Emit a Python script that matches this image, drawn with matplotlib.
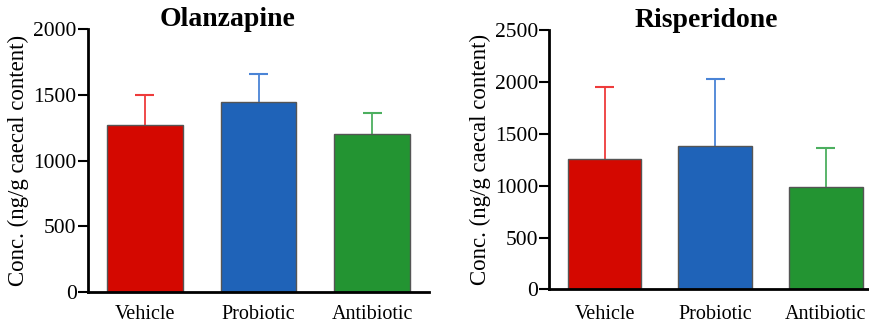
import matplotlib
matplotlib.use("Agg")
import matplotlib.pyplot as plt

# groups and colours
groups = ["Vehicle", "Probiotic", "Antibiotic"]
bar_colors = ["#d40800", "#1f63b8", "#239432"]
err_colors = ["#ee3b3b", "#4a84d6", "#4caf5f"]

# values (mean, upper error)
olz_mean = [1270, 1447, 1199]
olz_err = [226, 213, 160]
ris_mean = [1252, 1377, 985]
ris_err = [696, 645, 379]

plt.rcParams["font.family"] = "Liberation Serif"

fig = plt.figure(figsize=(8.69, 3.26), dpi=100)


def panel(rect, mean, err, title, ymax, xmax, cap, xpad, title_x):
    ax = fig.add_axes(rect)
    x = list(range(len(groups)))
    ax.bar(x, mean, width=0.667, color=bar_colors, edgecolor="#555555",
           linewidth=1.0, zorder=2)
    # only the upper half of the error bar is shown
    for i in x:
        top = mean[i] + err[i]
        ax.vlines(i, mean[i], top, color=err_colors[i], lw=1.3, zorder=1)
        ax.hlines(top, i - cap, i + cap, color=err_colors[i], lw=1.5, zorder=1)
    ax.set_xlim(-0.5, xmax)
    ax.set_ylim(0, ymax)
    ax.set_yticks(range(0, ymax + 1, 500))
    ax.set_xticks(x)
    ax.set_xticklabels(groups, fontsize=14.5)
    ax.tick_params(axis="x", length=0, pad=xpad)
    ax.tick_params(axis="y", length=7, width=1.5, labelsize=15.5, pad=1)
    for s in ["top", "right"]:
        ax.spines[s].set_visible(False)
    for s in ["left", "bottom"]:
        ax.spines[s].set_linewidth(2)
    ax.set_ylabel("Conc. (ng/g caecal content)", fontsize=16.5, labelpad=3)
    ax.set_title(title, fontsize=20, fontweight="bold", y=1.0, pad=2)
    ax.title.set_x(title_x)
    return ax


panel([0.101, 0.104, 0.393, 0.807], olz_mean, olz_err, "Olanzapine",
      2000, 2.5, 0.085, 9, 0.41)
panel([0.632, 0.112, 0.368, 0.797], ris_mean, ris_err, "Risperidone",
      2500, 2.39, 0.085, 11, 0.49)

fig.savefig("out.png", dpi=100)
